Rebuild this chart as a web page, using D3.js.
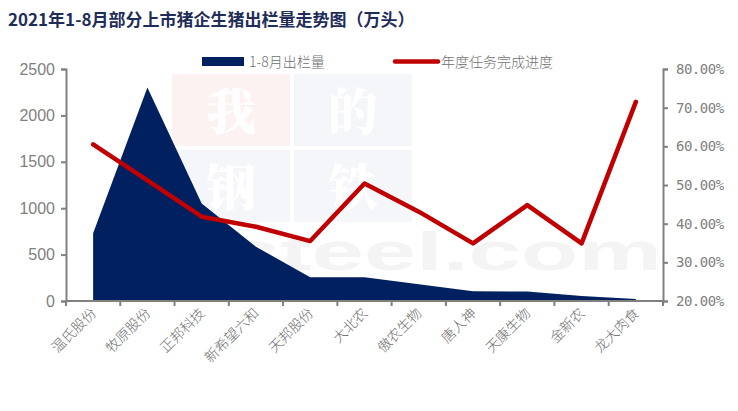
<!DOCTYPE html>
<html><head><meta charset="utf-8">
<script src="https://cdn.jsdelivr.net/npm/d3@7"></script>
<style>body{margin:0;background:#fff}svg{display:block}</style>
</head><body>
<svg id="c" width="738" height="411"></svg>
<script>
const categories = ["温氏股份","牧原股份","正邦科技","新希望六和","天邦股份","大北农","傲农生物","唐人神","天康生物","金新农","龙大肉食"];
const output = [730, 2300, 1050, 585, 255, 255, 180, 105, 102, 55, 22];
const progress = [60.5, 51.2, 41.8, 39.2, 35.5, 50.4, 43.1, 34.9, 44.8, 34.9, 71.5];
const leftTicks = [0, 500, 1000, 1500, 2000, 2500];
const rightTicks = [20, 30, 40, 50, 60, 70, 80];
const title = "2021年1-8月部分上市猪企生猪出栏量走势图（万头）";
const legendLabels = ["1-8月出栏量", "年度任务完成进度"];

const svg = d3.select("#c");
const m = {l: 66, r: 663, t: 69, b: 301};
const x = d3.scaleBand().domain(categories).range([m.l, m.r]);
const yL = d3.scaleLinear().domain([0, 2500]).range([m.b, m.t]);
const yR = d3.scaleLinear().domain([20, 80]).range([m.b, m.t]);
const cx = d => x(d) + x.bandwidth() / 2;

// watermark
const wm = svg.append("g");
const cells = [[172, 74, "#fdf2f2", "我"], [294, 74, "#f4f6fa", "的"], [172, 150, "#f4f6fa", "钢"], [294, 150, "#f4f6fa", "铁"]];
cells.forEach(c => {
  wm.append("rect").attr("x", c[0]).attr("y", c[1]).attr("width", 118).attr("height", 72).attr("fill", c[2]);
  wm.append("text").attr("x", c[0] + 59).attr("y", c[1] + 56).attr("text-anchor", "middle")
    .attr("font-family", "Noto Serif CJK SC, Noto Sans CJK SC").attr("font-weight", 900).attr("font-size", 50).attr("fill", "#fff").text(c[3]);
});
wm.append("text").attr("x", 92).attr("y", 270).attr("font-family", "Liberation Sans").attr("font-weight", "bold")
  .attr("font-size", 54).attr("fill", "#f4f4f4").attr("textLength", 570).attr("lengthAdjust", "spacingAndGlyphs").text("mysteel.com");

// title
svg.append("text").attr("x", 8).attr("y", 26).attr("font-family", "Noto Sans CJK SC").attr("font-weight", "bold")
  .attr("font-size", 17).attr("fill", "#1f2d5a").text(title);

// area
const area = d3.area().x(d => cx(d.c)).y0(yL(0)).y1(d => yL(d.v));
const data = categories.map((c, i) => ({c, v: output[i], p: progress[i]}));
svg.append("path").datum(data).attr("d", area).attr("fill", "#002060");

// line
const line = d3.line().x(d => cx(d.c)).y(d => yR(d.p));
svg.append("path").datum(data).attr("d", line).attr("fill", "none").attr("stroke", "#c00000")
  .attr("stroke-width", 4.5).attr("stroke-linejoin", "round").attr("stroke-linecap", "round");

// axes
const axisColor = "#808080";
const gl = svg.append("g").attr("transform", `translate(${m.l},0)`).call(d3.axisLeft(yL).tickValues(leftTicks).tickSize(5).tickPadding(6).tickFormat(d3.format("d")));
const gr = svg.append("g").attr("transform", `translate(${m.r},0)`).call(d3.axisRight(yR).tickValues(rightTicks).tickSize(5).tickPadding(8).tickFormat(d => d.toFixed(2) + "%"));
const gx = svg.append("g").attr("transform", `translate(0,${m.b})`);
gx.append("line").attr("x1", m.l).attr("x2", m.r).attr("y1", 0).attr("y2", 0);
categories.concat([null]).forEach((c, i) => {
  const xx = c ? x(c) : m.r;
  gx.append("line").attr("x1", xx).attr("x2", xx).attr("y1", 0).attr("y2", 5);
});
gx.selectAll("line").attr("stroke", axisColor).attr("stroke-width", 2);
categories.forEach(c => {
  gx.append("text").attr("transform", `translate(${cx(c) + 4},${13}) rotate(-45)`).attr("text-anchor", "end")
    .attr("font-family", "Noto Sans CJK SC").attr("font-weight", 300).attr("font-size", 14).attr("fill", "#6f6f6f").text(c);
});
[gl, gr].forEach(g => {
  g.select(".domain").attr("stroke", axisColor).attr("stroke-width", 2);
  g.selectAll(".tick line").attr("stroke", axisColor).attr("stroke-width", 2);
  g.selectAll(".tick text").attr("fill", "#7f7f7f").attr("font-size", 15);
});
gl.selectAll(".tick text").attr("font-family", "Liberation Sans").attr("font-size", 16);
gr.selectAll(".tick text").attr("font-family", "DejaVu Sans Mono").attr("font-size", 14).attr("letter-spacing", -0.5);

// legend
const lg = svg.append("g");
lg.append("rect").attr("x", 202).attr("y", 57).attr("width", 42).attr("height", 9).attr("fill", "#002060");
lg.append("text").attr("x", 249).attr("y", 67).attr("font-family", "Noto Sans CJK SC").attr("font-weight", 300)
  .attr("font-size", 14).attr("fill", "#6f6f6f").text(legendLabels[0]);
lg.append("line").attr("x1", 395).attr("x2", 438).attr("y1", 61.5).attr("y2", 61.5).attr("stroke", "#c00000").attr("stroke-width", 4.5).attr("stroke-linecap", "round");
lg.append("text").attr("x", 441).attr("y", 67).attr("font-family", "Noto Sans CJK SC").attr("font-weight", 300)
  .attr("font-size", 14).attr("fill", "#6f6f6f").text(legendLabels[1]);
</script>
</body></html>
